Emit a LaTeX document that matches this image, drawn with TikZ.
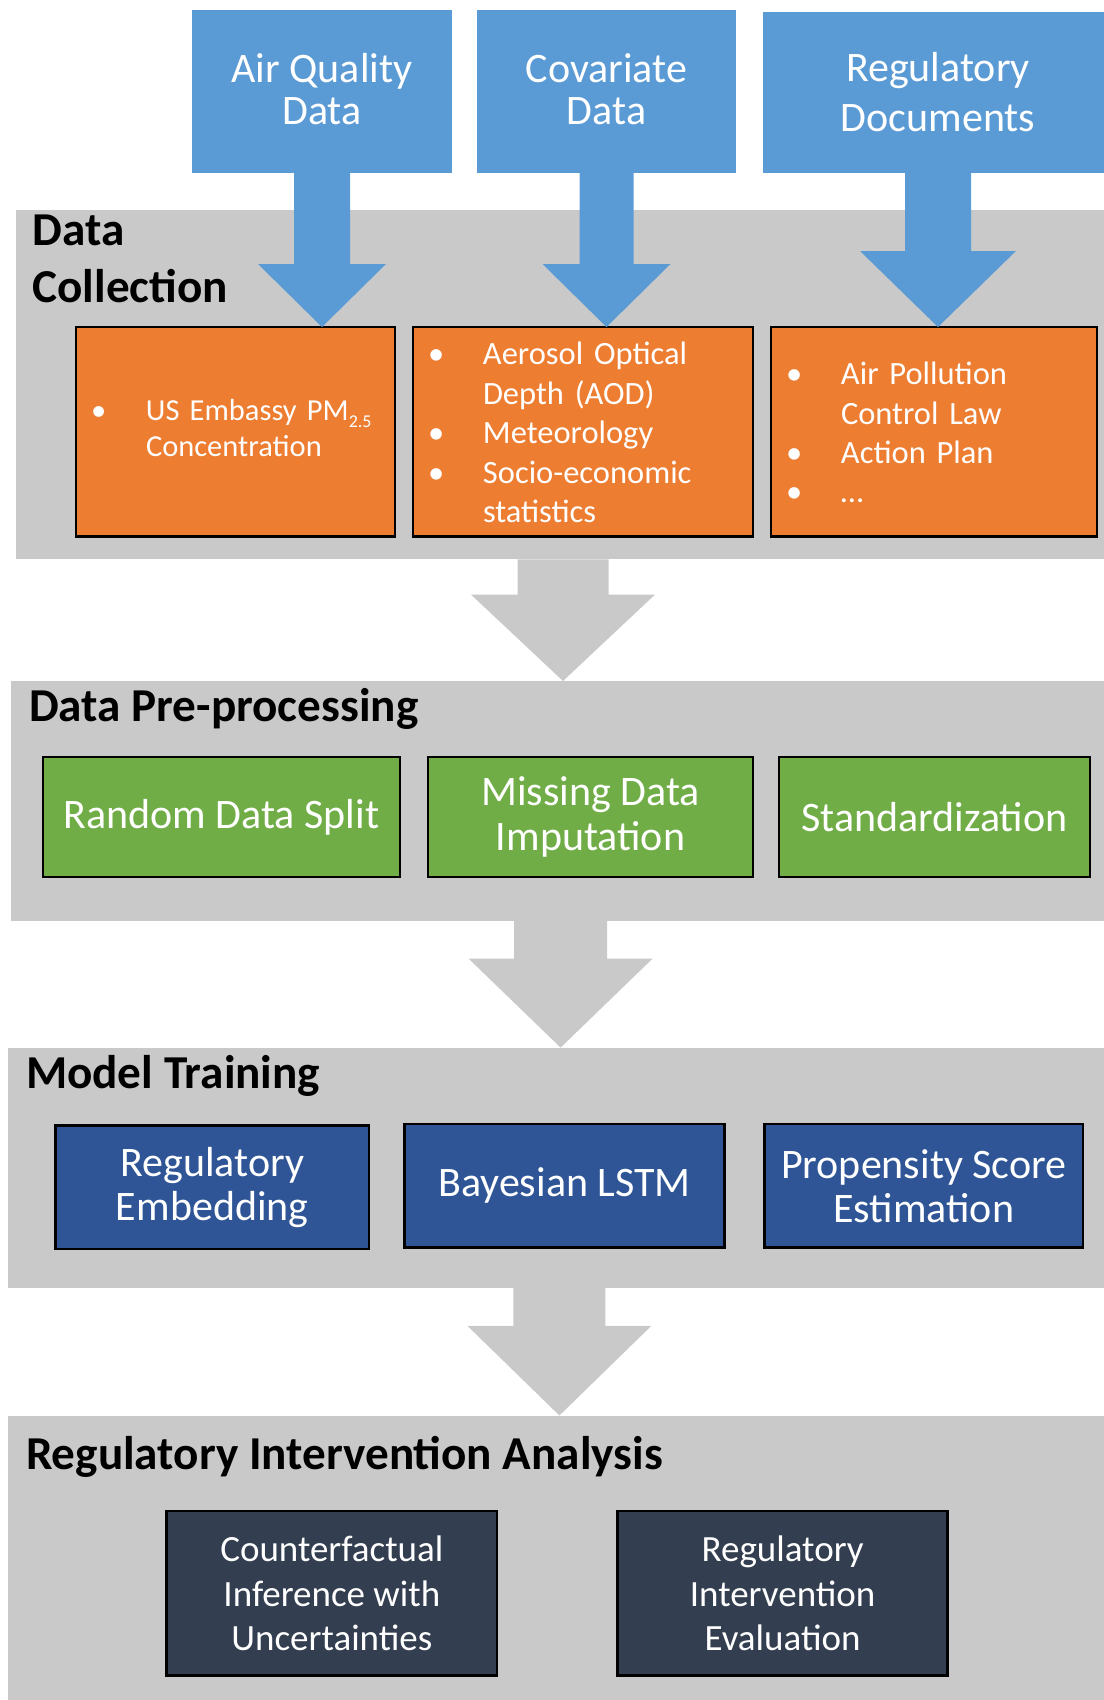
\documentclass[tikz,border=0pt]{standalone}
\usepackage{fontspec}
\setmainfont{Carlito}
\usetikzlibrary{calc}
\definecolor{topblue}{HTML}{5B9BD5}
\definecolor{bandgrey}{HTML}{C9C9C9}
\definecolor{orangebox}{HTML}{ED7D31}
\definecolor{greenbox}{HTML}{70AD47}
\definecolor{modelblue}{HTML}{2F5597}
\definecolor{darkbox}{HTML}{333F50}
\newcommand\blockarrow[6]{%
  \fill[#1] ($(#2)+(-#4,0)$) -- ($(#3)+(-#4,-#6)$) -- ($(#3)+(-#5,-#6)$) -- (#3)
    -- ($(#3)+(#5,-#6)$) -- ($(#3)+(#4,-#6)$) -- ($(#2)+(#4,0)$) -- cycle;}
\newcommand\lifted[2]{\raisebox{#1}[\height][\depth]{\begin{tabular}{@{}c@{}}#2\end{tabular}}}
\newcommand\bulletlist[2]{\raisebox{#1}[\height][\depth]{\begin{tabular}{@{}p{55pt}@{}l@{}}#2\end{tabular}}}
\begin{document}
\begin{tikzpicture}[x=1pt,y=-1pt,
  band/.style={rectangle, fill=bandgrey, draw=none, inner sep=0pt, outer sep=0pt, anchor=north west},
  srcbox/.style={rectangle, fill=topblue, draw=none, inner sep=0pt, outer sep=0pt, anchor=north west,
     text=white, align=center, font=\fontsize{42}{42}\selectfont},
  stepbox/.style={rectangle, draw=black, line width=2.5pt, inner sep=0pt, outer sep=0pt, anchor=north west,
     text=white, align=center},
  bulletbox/.style={stepbox, fill=orangebox, align=left, minimum height=209.4pt},
  prepbox/.style={stepbox, fill=greenbox, minimum height=120pt, font=\fontsize{42}{45.7}\selectfont},
  modelbox/.style={stepbox, fill=modelblue, minimum height=123.4pt, font=\fontsize{42}{44}\selectfont},
  analysisbox/.style={stepbox, fill=darkbox, minimum height=164.6pt, font=\fontsize{37}{44.5}\selectfont},
  title/.style={inner sep=0pt, outer sep=0pt, anchor=base west, text=black, font=\bfseries\fontsize{47.2}{52}\selectfont}
]
\useasboundingbox (0,0) rectangle (1103,1700);

% grey bands
\node[band, minimum width=1095pt, minimum height=349.6pt] (b1) at (15.5,209.7) {};
\node[band, minimum width=1100pt, minimum height=240pt] (b2) at (10.6,681) {};
\node[band, minimum width=1102pt, minimum height=240.4pt] (b3) at (8.4,1047.6) {};
\node[band, minimum width=1102pt, minimum height=290pt] (b4) at (8.4,1415.5) {};

% source boxes
\node[srcbox, minimum width=260pt, minimum height=162.3pt] (aq) at (192,10.4) {\lifted{-3.3pt}{Air Quality\\Data}};
\node[srcbox, minimum width=259pt, minimum height=162.6pt] (cov) at (477,10.4) {\lifted{-3.3pt}{Covariate\\Data}};
\node[srcbox, minimum width=350pt, minimum height=161.2pt, font=\fontsize{42}{50}\selectfont] (reg) at (763,11.8) {Regulatory\\Documents};

% titles
\node[title] (t1a) at (32.5,245) {Data};
\node[title] (t1b) at (32.5,302.6) {Collection};
\node[title] (t2) at (29,721) {Data Pre-processing};
\node[title] (t3) at (26,1088.4) {Model Training};
\node[title] (t4) at (26,1469) {Regulatory Intervention Analysis};

% data collection boxes
\node[bulletbox, minimum width=319pt, text width=289pt, font=\fontsize{30.5}{36}\selectfont] (o1) at (76,327)
  {\bulletlist{0pt}{\textbullet & US Embassy PM\raisebox{-7pt}{\fontsize{18}{18}\selectfont 2.5}\\ & Concentration}};
\node[bulletbox, minimum width=340pt, text width=310pt, font=\fontsize{32.5}{39.5}\selectfont] (o2) at (413,327)
  {\bulletlist{-4.3pt}{\textbullet & Aerosol Optical\\ & Depth (AOD)\\ \textbullet & Meteorology\\ \textbullet & Socio-economic\\ & statistics}};
\node[bulletbox, minimum width=326pt, text width=296pt, font=\fontsize{32.5}{39.4}\selectfont] (o3) at (771,327)
  {\bulletlist{-4.3pt}{\textbullet & Air Pollution\\ & Control Law\\ \textbullet & Action Plan\\ \textbullet & …}};

% pre-processing boxes
\node[prepbox, minimum width=357pt] (g1) at (43,756.8) {Random Data Split};
\node[prepbox, minimum width=325pt] (g2) at (428,756.8) {Missing Data\\Imputation};
\node[prepbox, minimum width=311pt] (g3) at (779,756.8) {Standardization};

% model training boxes
\node[modelbox, minimum width=313.4pt] (m1) at (55.6,1125.4) {Regulatory\\Embedding};
\node[modelbox, minimum width=320pt] (m2) at (404.5,1124) {Bayesian LSTM};
\node[modelbox, minimum width=318.4pt] (m3) at (764.6,1124) {Propensity Score\\Estimation};

% analysis boxes
\node[analysisbox, minimum width=330.3pt] (d1) at (166.7,1511) {Counterfactual\\Inference with\\Uncertainties};
\node[analysisbox, minimum width=330pt] (d2) at (617.6,1511) {Regulatory\\Intervention\\Evaluation};

% connector ends
\coordinate (a1tip) at (aq.south |- o1.north);
\coordinate (a2tip) at (cov.south |- o2.north);
\coordinate (a3tip) at (reg.south |- o3.north);
\coordinate (g1tip) at (b1.south |- b2.north);
\coordinate (g2tip) at (b2.south |- b3.north);
\coordinate (g3tip) at (b3.south |- b4.north);

% blue block arrows
\blockarrow{topblue}{aq.south}{a1tip}{28}{64}{63}
\blockarrow{topblue}{cov.south}{a2tip}{27}{64}{63}
\blockarrow{topblue}{reg.south}{a3tip}{33}{78}{76}

% grey block arrows
\blockarrow{bandgrey}{b1.south}{g1tip}{45.5}{92}{86.4}
\blockarrow{bandgrey}{b2.south}{g2tip}{46.5}{92}{89}
\blockarrow{bandgrey}{b3.south}{g3tip}{46}{92}{89.7}
\end{tikzpicture}
\end{document}
